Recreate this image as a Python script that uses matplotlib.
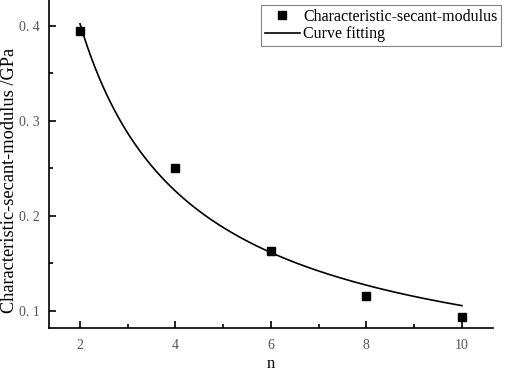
import matplotlib
matplotlib.use("Agg")
import matplotlib.pyplot as plt
import numpy as np
from matplotlib.ticker import MultipleLocator

# pontos medidos
n = np.array([2, 4, 6, 8, 10])
modulo = np.array([0.394, 0.250, 0.163, 0.116, 0.094])

# parâmetros da curva ajustada (y = a * n^b)
a_fit = 0.715
b_fit = -0.831
n_fit = np.linspace(2, 10, 200)

plt.rcParams['font.family'] = ['Liberation Serif', 'DejaVu Serif']

fig = plt.figure(figsize=(5.05, 3.71), dpi=100)
ax = fig.add_axes([0.097, 0.116, 0.879, 0.884])

ax.plot(n, modulo, 's', color='black', markersize=6, label='Characteristic-secant-modulus')
ax.plot(n_fit, a_fit * n_fit ** b_fit, '-', color='black', linewidth=1.2, label='Curve fitting')

ax.set_xlim(1.35, 10.65)
ax.set_ylim(0.082, 0.427)
ax.set_xticks(n)
ax.set_yticks([0.1, 0.2, 0.3, 0.4])
ax.set_yticklabels(['0. 1', '0. 2', '0. 3', '0. 4'])
ax.xaxis.set_minor_locator(MultipleLocator(1))
ax.yaxis.set_minor_locator(MultipleLocator(0.05))
ax.tick_params(which='both', direction='in', width=1.2, labelsize=10, labelcolor='#555555')
ax.tick_params(which='major', length=5)
ax.tick_params(which='minor', length=3)
ax.tick_params(axis='x', which='major', pad=8)
ax.tick_params(axis='y', which='major', pad=7)
ax.spines['top'].set_visible(False)
ax.spines['right'].set_visible(False)
ax.spines['left'].set_linewidth(1.2)
ax.spines['bottom'].set_linewidth(1.2)

ax.set_xlabel('n', fontsize=12, labelpad=3)
ax.set_ylabel('Characteristic-secant-modulus /GPa', fontsize=13.2)
ax.yaxis.set_label_coords(-0.07, 0.45)

leg = ax.legend(loc='upper right', bbox_to_anchor=(1.03, 1.0), fontsize=11.5, frameon=True,
                fancybox=False, edgecolor='#666666', handlelength=2.2, handletextpad=0.2,
                borderpad=0.25, labelspacing=0.1, borderaxespad=0.3)
leg.get_frame().set_linewidth(0.8)

fig.savefig('out.png', dpi=100)
